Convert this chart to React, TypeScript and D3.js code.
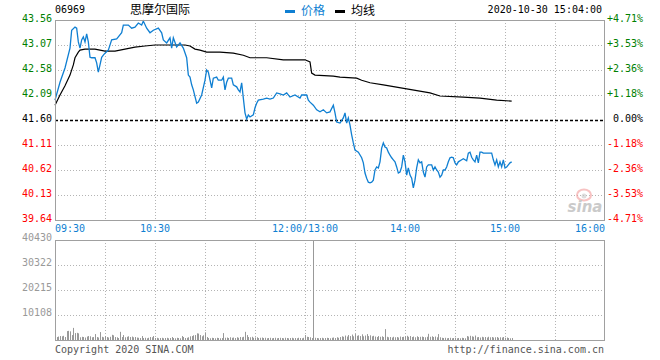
import React from "react";
import * as d3 from "d3";

// ---- data ----
const code = "06969";
const name = "思摩尔国际";
const stamp = "2020-10-30 15:04:00";
const preClose = 41.6;
const priceTicks = [43.56, 43.07, 42.58, 42.09, 41.6, 41.11, 40.62, 40.13, 39.64];
const pctTicks = ["+4.71%", "+3.53%", "+2.36%", "+1.18%", "0.00%", "-1.18%", "-2.36%", "-3.53%", "-4.71%"];
const volTicks = [40430, 30322, 20215, 10108];
const timeLabels = ["09:30", "10:30", "12:00/13:00", "14:00", "15:00", "16:00"];
const timeLabelMin = [0, 60, 150, 210, 270, 330];

// minutes since 09:30 on the trading clock (12:00 and 13:00 share minute 150)
const priceMin = [0, 3, 6, 9, 10, 12, 13, 14, 15, 16, 17, 18, 19, 20, 21, 22, 24, 25, 26, 27, 28, 29, 30, 32, 34, 37, 38, 40, 41, 44, 46, 48, 50, 52, 53, 55, 57, 59, 62, 64, 65, 67, 69, 70, 71, 73, 75, 77, 79, 80, 81, 82, 83, 85, 86, 88, 90, 91, 92, 94, 95, 97, 98, 100, 101, 102, 103, 104, 106, 107, 109, 110, 111, 112, 113, 114, 115, 116, 117, 119, 120, 121, 122, 125, 127, 129, 131, 133, 135, 137, 139, 141, 144, 147, 148, 151, 152, 153, 155, 157, 159, 161, 163, 165, 167, 168, 169, 171, 173, 174, 175, 176, 177, 178, 179, 180, 182, 184, 185, 186, 187, 188, 189, 190, 191, 192, 193, 194, 195, 196, 197, 198, 199, 200, 201, 202, 203, 204, 205, 206, 207, 208, 209, 210, 211, 212, 213, 214, 215, 216, 217, 218, 219, 220, 221, 222, 223, 224, 226, 227, 228, 229, 230, 231, 232, 233, 234, 235, 236, 237, 238, 239, 240, 241, 242, 244, 245, 247, 248, 249, 250, 251, 252, 253, 254, 255, 256, 257, 262, 263, 264, 265, 266, 267, 268, 269, 270, 271, 272, 273, 274];
const priceVal = [41.99, 42.34, 42.62, 43.01, 43.36, 43.42, 43.40, 43.13, 43.01, 43.17, 43.23, 43.13, 43.29, 43.13, 42.83, 42.82, 42.82, 42.72, 42.54, 42.68, 42.83, 42.87, 42.91, 42.97, 43.17, 43.19, 43.23, 43.31, 43.46, 43.46, 43.40, 43.42, 43.50, 43.46, 43.54, 43.40, 43.31, 43.36, 43.40, 43.31, 43.17, 43.11, 43.21, 43.01, 43.21, 43.03, 43.11, 43.01, 42.82, 42.48, 42.44, 42.29, 42.19, 41.93, 41.95, 42.09, 42.38, 42.58, 42.54, 42.23, 42.42, 42.44, 42.38, 42.38, 42.44, 42.19, 42.34, 42.42, 42.42, 42.29, 42.25, 42.19, 42.15, 42.33, 42.03, 41.74, 41.62, 41.70, 41.66, 41.70, 41.84, 41.93, 41.99, 42.01, 42.03, 42.01, 42.03, 42.13, 42.11, 42.09, 42.13, 42.05, 42.09, 42.03, 42.09, 42.09, 41.99, 41.95, 41.89, 41.80, 41.76, 41.80, 41.74, 41.76, 41.89, 41.74, 41.56, 41.54, 41.64, 41.74, 41.54, 41.64, 41.50, 41.31, 41.15, 41.01, 40.97, 40.86, 40.76, 40.56, 40.46, 40.38, 40.37, 40.38, 40.42, 40.62, 40.68, 40.66, 40.78, 41.05, 41.15, 41.07, 41.05, 40.97, 40.91, 40.86, 40.82, 40.78, 40.68, 40.56, 40.58, 40.68, 40.91, 40.78, 40.52, 40.66, 40.52, 40.46, 40.27, 40.42, 40.66, 40.82, 40.76, 40.78, 40.58, 40.48, 40.68, 40.72, 40.72, 40.62, 40.68, 40.62, 40.58, 40.48, 40.52, 40.62, 40.62, 40.68, 40.78, 40.86, 40.87, 40.86, 40.76, 40.72, 40.78, 40.82, 40.84, 40.80, 40.95, 40.97, 40.87, 40.82, 40.78, 40.91, 40.76, 40.97, 40.97, 40.95, 40.95, 40.82, 40.72, 40.82, 40.68, 40.78, 40.68, 40.82, 40.66, 40.68, 40.72, 40.76, 40.78];

const avgMin = [0, 3, 6, 9, 11, 12, 14, 15, 18, 24, 27, 30, 36, 42, 48, 54, 60, 78, 81, 84, 87, 91, 99, 107, 113, 117, 127, 137, 150, 153, 154, 156, 167, 171, 181, 184, 189, 197, 211, 225, 231, 245, 255, 265, 274];
const avgVal = [41.89, 42.09, 42.27, 42.48, 42.68, 42.82, 42.93, 42.97, 42.99, 42.99, 42.97, 42.95, 42.95, 42.99, 43.03, 43.05, 43.07, 43.07, 43.05, 42.99, 42.97, 42.93, 42.93, 42.91, 42.87, 42.82, 42.82, 42.78, 42.78, 42.74, 42.52, 42.48, 42.46, 42.44, 42.42, 42.38, 42.33, 42.29, 42.21, 42.13, 42.07, 42.05, 42.03, 41.99, 41.97];

// volume per minute, minute 0..274
const volumes = [
  1300, 1200, 1400, 1600, 1500, 1700, 1200, 3600, 3700, 3500,
  2000, 4900, 2800, 2900, 2700, 1100, 1300, 1200, 1000, 1400,
  1600, 1500, 1100, 1200, 2400, 1200, 1000, 3200, 1300, 1100,
  1600, 1200, 1000, 1300, 2100, 1900, 1200, 1100, 800, 3300,
  1200, 2000, 1100, 1300, 1500, 1200, 1400, 1100, 1200, 1000,
  900, 800, 1600, 800, 900, 700, 900, 1200, 1100, 1600,
  800, 900, 700, 800, 900, 700, 800, 900, 700, 800,
  1200, 800, 700, 900, 800, 700, 1600, 1200, 800, 900,
  1100, 1500, 1600, 1900, 2000, 2700, 2600, 2000, 1500, 1900,
  3100, 1200, 800, 700, 900, 800, 700, 900, 800, 700,
  800, 2800, 900, 1000, 800, 1100, 900, 1000, 800, 1100,
  900, 1200, 1100, 1300, 3300, 2000, 1200, 1100, 1300, 900,
  1000, 1100, 800, 900, 1000, 800, 900, 700, 800, 900,
  700, 800, 900, 700, 800, 900, 800, 700, 900, 800,
  700, 800, 900, 700, 800, 700, 900, 800, 700, 900,
  2000, 1300, 1200, 1100, 800, 40430, 900, 800, 700, 800,
  900, 700, 800, 900, 800, 700, 900, 1000, 800, 1100,
  900, 1200, 1500, 1300, 1800, 1400, 2000, 1600, 2200, 1500,
  2400, 1700, 1900, 1600, 2300, 1500, 1800, 2400, 1600, 1900,
  1500, 1700, 1400, 1200, 1600, 1300, 1500, 1200, 4400, 1300,
  1100, 1200, 1000, 1300, 1100, 1200, 1000, 1400, 1200, 1300,
  1500, 1700, 1300, 1600, 1200, 1400, 1100, 1500, 1200, 1300,
  1400, 1200, 1100, 1300, 2500, 1300, 1500, 1200, 1400, 1100,
  2400, 1100, 900, 800, 900, 700, 800, 900, 700, 800,
  900, 700, 800, 700, 900, 800, 700, 1600, 1400, 1700,
  1500, 1300, 1800, 1100, 1200, 1000, 1300, 1100, 1200, 1000,
  1300, 1100, 1200, 1000, 1100, 1200, 900, 1100, 1000, 1200,
  900, 1000, 800, 700, 800,
];

// ---- layout ----
const W = 660;
const H = 360;
const L = 55;
const R = 605;
const mainTop = 20;
const mainBot = 220;
const volTop = 240;
const volBot = 340;
const MONO = "'DejaVu Sans Mono', 'Liberation Mono', monospace";
const CJK = "'Noto Sans CJK SC', sans-serif";
const BLUE = "#0f7fd2";
const GREEN = "#008000";
const RED = "#ff0000";
const GRID = "#b4b4b4";
const BORDER = "#a0a0a0";

export default function App() {
  const x = d3.scaleLinear().domain([0, 330]).range([L, R]);
  const y = d3.scaleLinear().domain([39.64, 43.56]).range([mainBot, mainTop]);
  const yv = d3.scaleLinear().domain([0, 40430]).range([volBot, volTop]);

  const priceLine = d3
    .line<number>()
    .x((_, i) => x(priceMin[i]))
    .y((d) => y(d))(priceVal) as string;
  const avgLine = d3
    .line<number>()
    .x((_, i) => x(avgMin[i]))
    .y((d) => y(d))(avgVal) as string;

  const vGrid = d3.range(1, 11).map((i) => L + ((R - L) / 11) * i);

  return (
    <div style={{ position: "fixed", left: 0, top: 0 }}>
      <svg width={W} height={H} style={{ display: "block", background: "#fff" }}>
        {/* header */}
        <text x={55} y={13} fontFamily={MONO} fontSize={10} fill="#000">{code}</text>
        <text x={130} y={14} fontFamily={CJK} fontSize={12} fill="#000">{name}</text>
        <rect x={285} y={10} width={10} height={3} fill={BLUE} />
        <text x={301} y={15} fontFamily={CJK} fontSize={12} fill={BLUE}>价格</text>
        <rect x={335} y={10} width={10} height={3} fill="#000" />
        <text x={351} y={15} fontFamily={CJK} fontSize={12} fill="#000">均线</text>
        <text x={602} y={13} textAnchor="end" fontFamily={MONO} fontSize={10} fill="#000">{stamp}</text>

        {/* main grid */}
        {priceTicks.map((p, i) =>
          i === 0 || i === priceTicks.length - 1 || p === preClose ? null : (
            <line key={"h" + i} x1={L} x2={R} y1={Math.round(y(p)) + 0.5} y2={Math.round(y(p)) + 0.5} stroke={GRID} strokeDasharray="1,2" />
          )
        )}
        {vGrid.map((gx, i) => (
          <line key={"v" + i} x1={Math.round(gx) + 0.5} x2={Math.round(gx) + 0.5} y1={mainTop} y2={mainBot} stroke={GRID} strokeDasharray="1,2" />
        ))}
        <line x1={L} x2={R} y1={Math.round(y(preClose)) + 0.5} y2={Math.round(y(preClose)) + 0.5} stroke="#000" strokeWidth={1.3} strokeDasharray="3,2" />

        {/* watermark */}
        <g opacity={0.6}>
          <ellipse cx={584} cy={195} rx={7} ry={5.5} fill="none" stroke="#f29a9a" strokeWidth={2} />
          <circle cx={584} cy={196} r={2.5} fill="#c8c8c8" />
          <text x={585} y={212} textAnchor="middle" fontFamily="'DejaVu Sans', sans-serif" fontStyle="italic" fontWeight="bold" fontSize={15} fill="#a8a8a8">sina</text>
        </g>

        {/* lines */}
        <path d={avgLine} fill="none" stroke="#000" strokeWidth={1.2} />
        <path d={priceLine} fill="none" stroke={BLUE} strokeWidth={1.3} />

        {/* main border */}
        <rect x={L + 0.5} y={mainTop + 0.5} width={R - L - 1} height={mainBot - mainTop} fill="none" stroke={BORDER} strokeWidth={1} />

        {/* left & right axis labels */}
        {priceTicks.map((p, i) => (
          <text key={"pl" + i} x={52} y={Math.round(y(p)) + 2} textAnchor="end" fontFamily={MONO} fontSize={10}
            fill={p > preClose ? GREEN : p < preClose ? RED : "#000"}>{p.toFixed(2)}</text>
        ))}
        {pctTicks.map((t, i) => (
          <text key={"pr" + i} x={643} y={Math.round(y(priceTicks[i])) + 2} textAnchor="end" fontFamily={MONO} fontSize={10}
            fill={priceTicks[i] > preClose ? GREEN : priceTicks[i] < preClose ? RED : "#000"}>{t}</text>
        ))}

        {/* time labels */}
        {timeLabels.map((t, i) => (
          <text key={"t" + i} x={x(timeLabelMin[i])} y={232}
            textAnchor={i === 0 ? "start" : i === timeLabels.length - 1 ? "end" : "middle"}
            fontFamily={MONO} fontSize={10} fill={BLUE}>{t}</text>
        ))}

        {/* volume panel */}
        {volTicks.map((v, i) =>
          i === 0 ? null : (
            <line key={"vh" + i} x1={L} x2={R} y1={Math.round(yv(v)) + 0.5} y2={Math.round(yv(v)) + 0.5} stroke={GRID} strokeDasharray="1,2" />
          )
        )}
        {vGrid.map((gx, i) => (
          <line key={"vv" + i} x1={Math.round(gx) + 0.5} x2={Math.round(gx) + 0.5} y1={volTop} y2={volBot} stroke={GRID} strokeDasharray="1,2" />
        ))}
        {volumes.map((v, i) => (
          <rect key={"b" + i} x={Math.round(x(i))} y={yv(v)} width={1} height={volBot - yv(v)} fill="#999" />
        ))}
        <rect x={L + 0.5} y={volTop + 0.5} width={R - L - 1} height={volBot - volTop} fill="none" stroke={BORDER} strokeWidth={1} />
        {volTicks.map((v, i) => (
          <text key={"vl" + i} x={52} y={Math.round(yv(v)) + 1} textAnchor="end" fontFamily={MONO} fontSize={10} fill="#999">{v}</text>
        ))}

        {/* footer */}
        <text x={55} y={353} fontFamily={MONO} fontSize={10} fill="#555">Copyright 2020 SINA.COM</text>
        <text x={604} y={353} textAnchor="end" fontFamily={MONO} fontSize={10} fill="#555">http://finance.sina.com.cn</text>
      </svg>
    </div>
  );
}
